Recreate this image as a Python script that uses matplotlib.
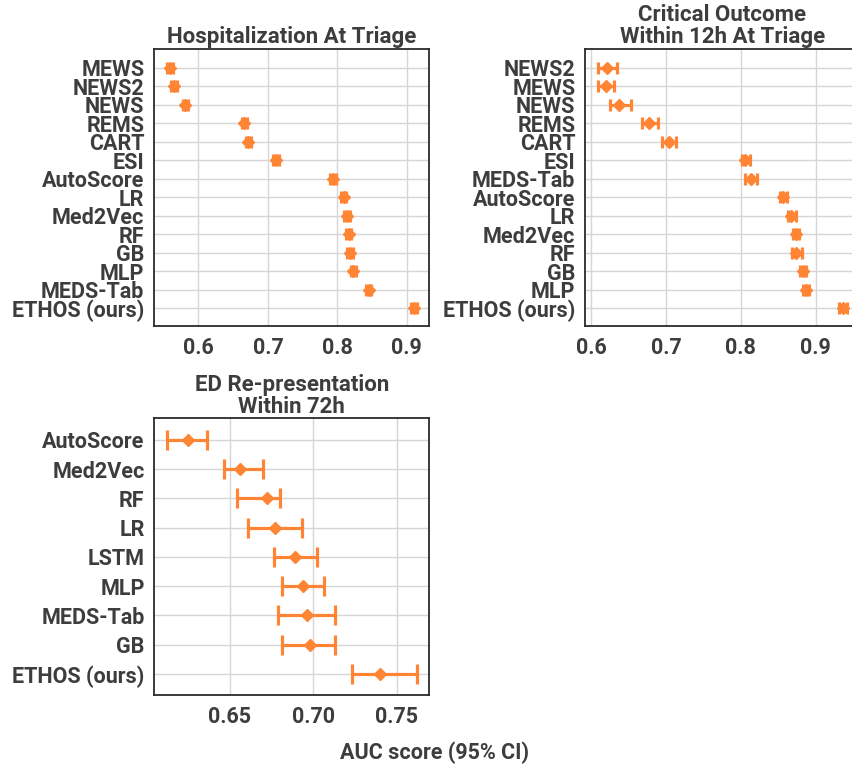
import matplotlib
matplotlib.use("Agg")
import matplotlib.pyplot as plt

plt.rcParams["font.family"] = ["Roboto", "DejaVu Sans"]
plt.rcParams["font.weight"] = "bold"

ORANGE = "#ff8534"
TEXT = "#3d3d3d"

# Hospitalization At Triage
hosp_names = ["MEWS", "NEWS2", "NEWS", "REMS", "CART", "ESI", "AutoScore", "LR",
              "Med2Vec", "RF", "GB", "MLP", "MEDS-Tab", "ETHOS (ours)"]
hosp_auc = [0.559, 0.565, 0.581, 0.666, 0.672, 0.712, 0.794, 0.809,
            0.814, 0.816, 0.818, 0.823, 0.845, 0.910]
hosp_lo = [0.555, 0.561, 0.577, 0.662, 0.668, 0.708, 0.790, 0.805,
           0.810, 0.812, 0.814, 0.819, 0.841, 0.906]
hosp_hi = [0.563, 0.569, 0.585, 0.670, 0.676, 0.716, 0.798, 0.813,
           0.818, 0.820, 0.822, 0.827, 0.849, 0.914]

# Critical Outcome Within 12h At Triage
crit_names = ["NEWS2", "MEWS", "NEWS", "REMS", "CART", "ESI", "MEDS-Tab", "AutoScore",
              "LR", "Med2Vec", "RF", "GB", "MLP", "ETHOS (ours)"]
crit_auc = [0.621, 0.620, 0.638, 0.678, 0.704, 0.806, 0.813, 0.856,
            0.867, 0.873, 0.874, 0.883, 0.887, 0.936]
crit_lo = [0.609, 0.610, 0.625, 0.668, 0.695, 0.802, 0.805, 0.852,
           0.863, 0.869, 0.868, 0.879, 0.883, 0.931]
crit_hi = [0.635, 0.631, 0.654, 0.689, 0.713, 0.812, 0.821, 0.861,
           0.873, 0.878, 0.881, 0.887, 0.891, 0.942]

# ED Re-presentation Within 72h
ed_names = ["AutoScore", "Med2Vec", "RF", "LR", "LSTM", "MLP", "MEDS-Tab", "GB", "ETHOS (ours)"]
ed_auc = [0.6246, 0.656, 0.672, 0.677, 0.689, 0.694, 0.696, 0.698, 0.740]
ed_lo = [0.6124, 0.6464, 0.6542, 0.661, 0.6762, 0.6812, 0.6788, 0.6812, 0.7232]
ed_hi = [0.6364, 0.670, 0.6802, 0.693, 0.702, 0.7062, 0.713, 0.713, 0.762]


def draw(ax, names, auc, lo, hi, title, capsize, ms):
    y = list(range(len(names)))
    err = [[a - l for a, l in zip(auc, lo)], [h - a for a, h in zip(auc, hi)]]
    ax.errorbar(auc, y, xerr=err, fmt="D", color=ORANGE, ecolor=ORANGE,
                elinewidth=2.3, capsize=capsize, capthick=2.3, markersize=ms, zorder=3)
    ax.set_yticks(y)
    ax.set_yticklabels(names)
    ax.grid(True, color="#d6d6d6", linewidth=1.0, zorder=0)
    ax.set_axisbelow(True)
    ax.tick_params(axis="both", length=0, labelsize=15.5, labelcolor=TEXT)
    ax.tick_params(axis="y", pad=7)
    ax.tick_params(axis="x", pad=8)
    for s in ax.spines.values():
        s.set_color("#2b2b2b")
        s.set_linewidth(1.3)
    ax.set_title(title, fontsize=16, fontweight="bold", color=TEXT, pad=4, linespacing=1.0)


fig = plt.figure(figsize=(8.52, 7.7), dpi=100)
ax1 = fig.add_axes([0.1808, 0.5766, 0.3228, 0.3597])
ax2 = fig.add_axes([0.6866, 0.5766, 0.3228, 0.3597])
ax3 = fig.add_axes([0.1811, 0.0974, 0.3224, 0.3594])

draw(ax1, hosp_names, hosp_auc, hosp_lo, hosp_hi, "Hospitalization At Triage", 4.3, 6)
ax1.set_xlim(0.536, 0.932)
ax1.set_ylim(13.96, -1.01)
ax1.set_xticks([0.6, 0.7, 0.8, 0.9])

draw(ax2, crit_names, crit_auc, crit_lo, crit_hi, "Critical Outcome\nWithin 12h At Triage", 4.3, 6)
ax2.set_xlim(0.592, 0.959)
ax2.set_ylim(13.96, -1.01)
ax2.set_xticks([0.6, 0.7, 0.8, 0.9])

draw(ax3, ed_names, ed_auc, ed_lo, ed_hi, "ED Re-presentation\nWithin 72h", 7.2, 6.5)
ax3.set_xlim(0.6046, 0.7694)
ax3.set_ylim(8.72, -0.74)
ax3.set_xticks([0.65, 0.70, 0.75])
ax3.set_xticklabels(["0.65", "0.70", "0.75"])

fig.text(0.51, 0.023, "AUC score (95% CI)", ha="center", va="center",
         fontsize=15.5, fontweight="bold", color=TEXT)

fig.savefig("out.png", dpi=100)
